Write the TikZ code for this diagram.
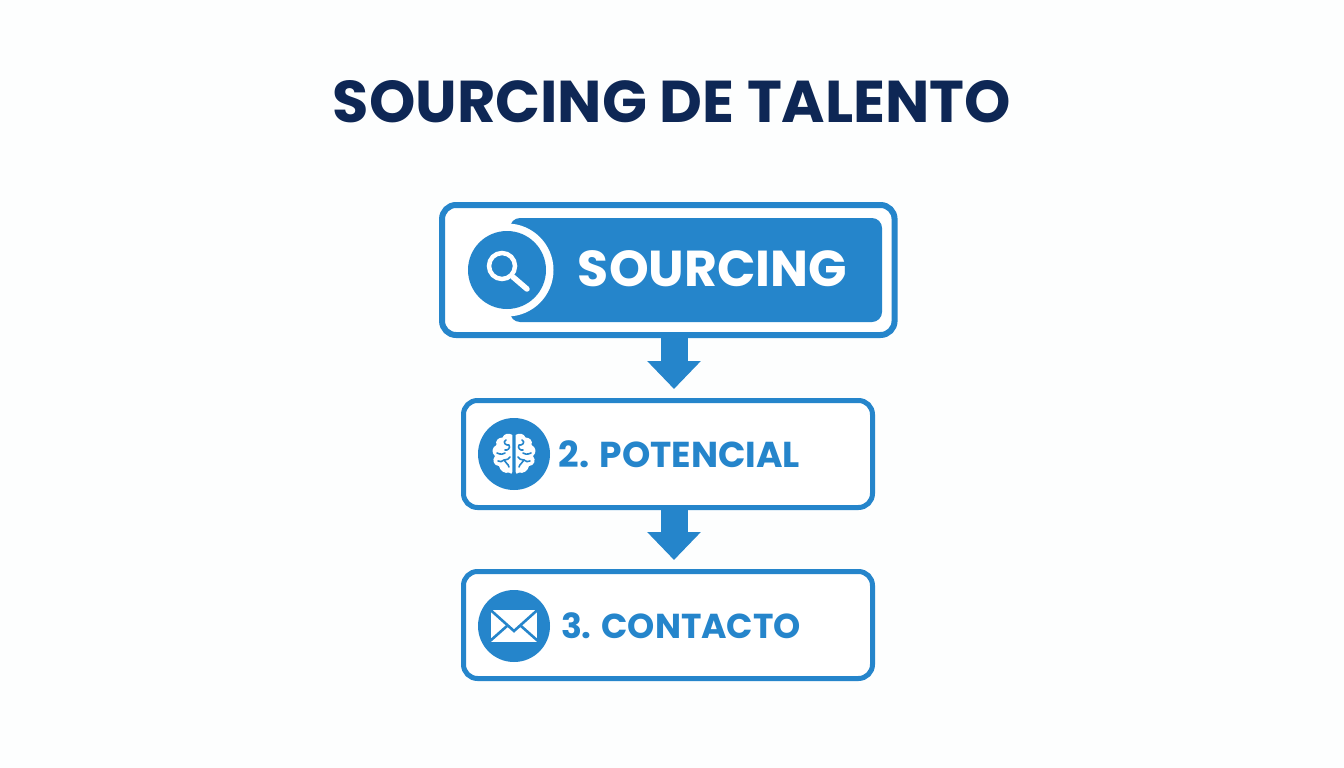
\documentclass[tikz,border=0pt]{standalone}
\usepackage{fontspec}
\setmainfont{Poppins}
\usetikzlibrary{arrows.meta}
\definecolor{bluemain}{HTML}{2585CB}
\definecolor{navy}{HTML}{0E2755}
\definecolor{paper}{HTML}{FDFEFE}
\tikzset{
  frame/.style={draw=bluemain,rounded corners=#1,fill=white,inner sep=0pt},
  frame/.default=14pt,
  disc/.style={circle,fill=bluemain,inner sep=0pt,minimum size=72pt},
  flow/.style={draw=bluemain,line width=27pt,-{Triangle[length=28pt,width=52pt,fill=bluemain]},shorten >=9pt},
  label/.style={font=\bfseries,text=bluemain,inner sep=0pt},
  sulcus/.style={draw=bluemain,line width=1.6pt,line cap=round,line join=round},
}
\newcommand{\lobe}{%
  \fill[white] (-1.6,-19) .. controls (-5,-21.5) and (-10,-20.5) .. (-11.5,-16.5)
    .. controls (-16,-16.5) and (-19,-13) .. (-17.5,-9)
    .. controls (-22,-7) and (-23,-1) .. (-19,2)
    .. controls (-22.5,6) and (-20,12) .. (-15,12)
    .. controls (-14,17) and (-9,20) .. (-5,18.5)
    .. controls (-3.5,20.5) and (-1.6,20) .. (-1.6,18) -- cycle;
  \draw[sulcus] (-8,-14) .. controls (-12,-12) and (-8,-8) .. (-5,-9) .. controls (-3,-6) and (-7,-3) .. (-9,-4);
  \draw[sulcus] (-17,-1) .. controls (-13,1) and (-10,0) .. (-9,-1);
  \draw[sulcus] (-5,13) .. controls (-6,9) and (-9,9) .. (-10,6) .. controls (-7,5) and (-5,6) .. (-4,3);
  \draw[sulcus] (-16,7) .. controls (-14,8) and (-12,8) .. (-10,6);
}
\begin{document}
\begin{tikzpicture}[x=1pt,y=-1pt]
\useasboundingbox[fill=paper] (0,0) rectangle (1344,768);

\node[inner sep=0pt,font=\fontsize{59}{59}\selectfont\bfseries,text=navy] (title) at (672,102) {SOURCING DE TALENTO};

% boxes
\node[frame,line width=6pt,minimum width=452.5pt,minimum height=130pt] (box1) at (668.3,270) {};
\node[frame,line width=5pt,minimum width=409pt,minimum height=107pt] (box2) at (668,454) {};
\node[frame,line width=5pt,minimum width=409pt,minimum height=107pt] (box3) at (668,625) {};

% arrows
\draw[flow] ([xshift=5.7pt]box1.south) -- ([xshift=6pt]box2.north);
\draw[flow] ([xshift=6pt]box2.south) -- ([xshift=6pt]box3.north);

% top bar
\node[fill=bluemain,rounded corners=10pt,inner sep=0pt,minimum width=372pt,minimum height=104pt] (bar) at (696,270) {};
\node[circle,fill=white,inner sep=0pt,minimum size=93pt] (ring) at (507,270) {};
\node[circle,fill=bluemain,inner sep=0pt,minimum size=78pt] (disc1) at (507,270) {};
\draw[white,line width=4.5pt] (502,266) circle (13);
\draw[white,line width=5.5pt,line cap=round] (513,277) -- (527,289);
\node[label,text=white,font=\fontsize{50.5}{50}\selectfont\bfseries] (lab1) at (712.5,269) {SOURCING};

% brain
\node[disc] (disc2) at (514,454) {};
\begin{scope}[shift={(514,454)}]
  \lobe
  \begin{scope}[xscale=-1]\lobe\end{scope}
\end{scope}
\node[label,font=\fontsize{36}{36}\selectfont\bfseries] (lab2) at (679.5,454) {2. POTENCIAL};

% envelope
\node[disc] (disc3) at (514,626) {};
\begin{scope}[shift={(514,626)}]
  \fill[white] (-23,-16) rectangle (23,16);
  \draw[bluemain,line width=2.6pt,line join=miter] (-24,-16.5) -- (0,5) -- (24,-16.5);
  \draw[bluemain,line width=2.6pt] (-24,15) -- (-7,0);
  \draw[bluemain,line width=2.6pt] (24,15) -- (7,0);
\end{scope}
\node[label,font=\fontsize{34.6}{35}\selectfont\bfseries] (lab3) at (681,625.5) {3. CONTACTO};
\end{tikzpicture}
\end{document}
